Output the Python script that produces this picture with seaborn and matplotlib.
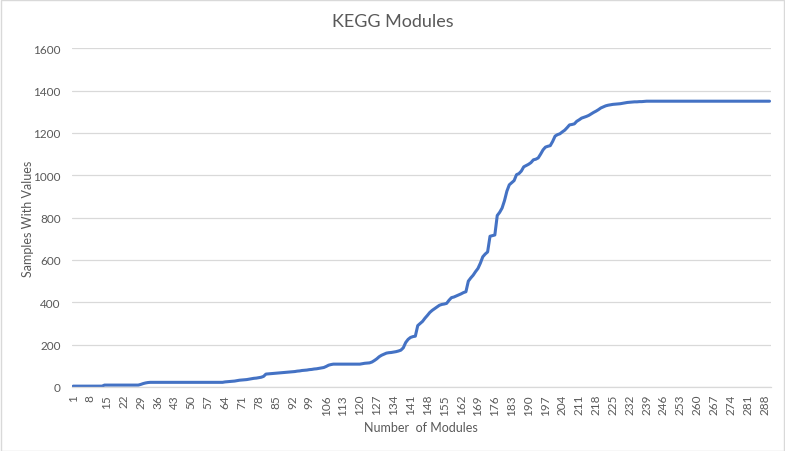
import matplotlib
matplotlib.use("Agg")
import matplotlib.pyplot as plt
import seaborn as sns
import pandas as pd
from matplotlib.patches import Rectangle

# Samples with values, one entry per module count 1..290
samples = [
    4, 4, 4, 4, 4, 4, 4, 4, 4, 4, 4, 4, 4, 9, 9, 9, 9, 9, 9, 9,            # 1-20
    9, 9, 9, 9, 9, 9, 9, 9, 12, 16, 19, 21, 22, 22, 22, 22, 22, 22, 22, 22,  # 21-40
    22, 22, 22, 22, 22, 22, 22, 22, 22, 22, 22, 22, 22, 22, 22, 22, 22, 22, 22, 22,  # 41-60
    22, 22, 22, 24, 25, 26, 27, 28, 30, 32, 33, 34, 35, 37, 39, 41, 42, 44, 46, 50,  # 61-80
    61, 62, 63, 64, 65, 66, 67, 68, 69, 70, 71, 72, 73, 75, 76, 78, 79, 80, 82, 83,  # 81-100
    85, 86, 88, 90, 92, 97, 103, 106, 108, 108, 108, 108, 108, 108, 108, 108, 108, 108, 108, 108,  # 101-120
    110, 112, 113, 114, 118, 125, 133, 143, 150, 155, 160, 162, 163, 165, 167, 170, 174, 185, 210, 225,  # 121-140
    234, 238, 240, 290, 300, 310, 325, 338, 352, 362, 370, 378, 386, 390, 392, 395, 410, 422, 425, 430,  # 141-160
    435, 440, 446, 450, 500, 515, 528, 545, 560, 585, 615, 628, 638, 712, 715, 718, 810, 825, 845, 880,  # 161-180
    925, 955, 965, 975, 1003, 1008, 1020, 1040, 1046, 1052, 1060, 1073, 1076, 1082, 1100, 1120, 1133, 1137, 1140, 1160,  # 181-200
    1185, 1192, 1196, 1205, 1213, 1225, 1238, 1240, 1243, 1255, 1262, 1270, 1274, 1278, 1283, 1290, 1297, 1303, 1310, 1318,  # 201-220
    1323, 1328, 1331, 1333, 1335, 1336, 1337, 1338, 1340, 1342, 1344, 1345, 1346, 1347, 1347, 1348, 1348, 1349, 1350, 1350,  # 221-240
    1350, 1350, 1350, 1350, 1350, 1350, 1350, 1350, 1350, 1350, 1350, 1350, 1350, 1350, 1350, 1350, 1350, 1350, 1350, 1350,  # 241-260
    1350, 1350, 1350, 1350, 1350, 1350, 1350, 1350, 1350, 1350, 1350, 1350, 1350, 1350, 1350, 1350, 1350, 1350, 1350, 1350,  # 261-280
    1350, 1350, 1350, 1350, 1350, 1350, 1350, 1350, 1350, 1350,  # 281-290
]
modules = list(range(1, len(samples) + 1))
y_ticks = [0, 200, 400, 600, 800, 1000, 1200, 1400, 1600]

data = pd.DataFrame({"Modules": modules, "Samples": samples})

sns.set_theme(style="white")
plt.rcParams["font.family"] = ["Lato", "DejaVu Sans"]

grey_text = "#595959"
grid_col = "#D9D9D9"

fig = plt.figure(figsize=(7.85, 4.52), dpi=100)
ax = fig.add_axes([0.0917, 0.1416, 0.8901, 0.7494])

sns.lineplot(data=data, x="Modules", y="Samples", ax=ax, color="#4472C4", linewidth=2.2)

ax.set_xlim(0.5, len(samples) + 0.5)
ax.set_ylim(0, 1600)
ax.set_yticks(y_ticks)
ax.set_yticklabels([str(v) for v in y_ticks], color=grey_text, fontsize=8.5)
ax.set_xticks(modules[::7])
ax.set_xticklabels([str(m) for m in modules[::7]], rotation=90, color=grey_text, fontsize=8.5)
ax.tick_params(axis="y", length=0, pad=8)
ax.tick_params(axis="x", length=0, pad=5)

ax.grid(axis="y", color=grid_col, linewidth=0.9)
ax.set_axisbelow(True)
for side in ["top", "right", "left"]:
    ax.spines[side].set_visible(False)
ax.spines["bottom"].set_color(grid_col)
ax.spines["bottom"].set_linewidth(0.9)

ax.set_xlabel("")
ax.set_ylabel("")
fig.text(0.5, 0.951, "KEGG Modules", ha="center", va="center", fontsize=13, color=grey_text)
fig.text(0.536, 0.053, "Number  of Modules", ha="center", va="center", fontsize=9, color=grey_text)
fig.text(0.036, 0.515, "Samples With Values", ha="center", va="center", rotation=90,
         fontsize=9, color=grey_text)

# light chart border like the spreadsheet frame
fig.patches.append(Rectangle((0.001, 0.001), 0.998, 0.997, transform=fig.transFigure,
                             fill=False, edgecolor=grid_col, linewidth=1))

fig.savefig("out.png", dpi=100)
